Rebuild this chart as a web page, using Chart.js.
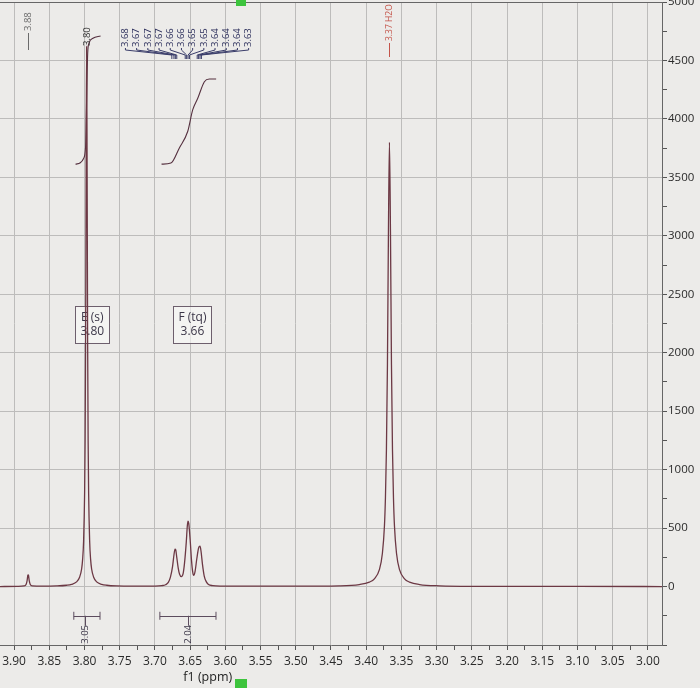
<!DOCTYPE html>
<html>
<head>
<meta charset="utf-8">
<script src="https://cdn.jsdelivr.net/npm/chart.js@4.4.1/dist/chart.umd.min.js"></script>
<style>
  html, body { margin: 0; padding: 0; background: #ecebe9; }
</style>
</head>
<body>
<canvas id="nmr" width="700" height="688"></canvas>
<script>
// 1H trace: shift (ppm) and intensity
const shiftPpm = [
  3.920, 3.895, 3.886, 3.883, 3.8815, 3.8805, 3.880, 3.8795, 3.8785, 3.877, 3.874, 3.860,
  3.8398, 3.8255, 3.8184, 3.8113, 3.8070, 3.8041, 3.8027, 3.8013, 3.79985, 3.79914, 3.79843, 3.7977,
  3.797,
  3.7963, 3.79557, 3.79486, 3.79415, 3.7927, 3.7913, 3.7899, 3.7870, 3.7827, 3.7756, 3.7685, 3.7542,
  3.730, 3.700, 3.690, 3.685, 3.681, 3.678, 3.675, 3.673, 3.6715, 3.6705, 3.669, 3.667, 3.665, 3.6625,
  3.660, 3.658, 3.6555, 3.654, 3.653, 3.652, 3.650, 3.648, 3.6465, 3.645,
  3.643, 3.6405, 3.638, 3.636, 3.6345, 3.6325, 3.630, 3.627, 3.624, 3.618, 3.605, 3.580, 3.500,
  3.4384, 3.4098, 3.3955, 3.3884, 3.3813, 3.3770, 3.3741, 3.3727, 3.3713, 3.36985, 3.36843,
  3.367,
  3.36557, 3.36415, 3.3627, 3.3613, 3.3599, 3.3570, 3.3527, 3.3456, 3.3385, 3.3242, 3.2956,
  3.250, 3.100, 2.980
];
const intensity = [
  0, 2, 6, 18, 50, 95, 100, 95, 50, 18, 6, 3,
  5, 11, 19, 40, 80, 150, 230, 390, 800, 1250, 2100, 3550,
  4620,
  3550, 2100, 1250, 800, 390, 230, 150, 80, 40, 19, 11, 5,
  3, 4, 8, 15, 35, 80, 170, 270, 320, 315, 250, 160, 105, 85,
  110, 200, 380, 520, 560, 540, 400, 220, 130, 95,
  130, 240, 330, 345, 300, 190, 90, 40, 18, 8, 4, 3, 3,
  6, 17, 38, 66, 145, 285, 520, 760, 1170, 1900, 3040,
  3800,
  3040, 1900, 1170, 760, 520, 285, 145, 66, 38, 17, 6,
  2, 1, 0
];

// integral curves
const integralEPpm = [3.8128, 3.806, 3.8015, 3.7985, 3.797, 3.7955, 3.7935, 3.788, 3.7772];
const integralEVal = [3613, 3625, 3660, 3760, 4160, 4560, 4650, 4690, 4710];
const integralFPpm = [3.6906, 3.6773, 3.6655, 3.6535, 3.6464, 3.6392, 3.6298, 3.6227, 3.6131];
const integralFVal = [3613, 3622, 3750, 3892, 4077, 4176, 4318, 4341, 4341];

// integral ranges under the trace
const integralFrom = [3.8152, 3.693];
const integralTo = [3.778, 3.6133];
const integralMid = [3.7986, 3.6527];
const integralText = ['3.05', '2.04'];

// peak picking labels
const peakLabelPpm = [3.880, 3.797, 3.367];
const peakLabelText = ['3.88', '3.80', '3.37 H2O'];
const multipletPpm = [3.676, 3.673, 3.671, 3.669, 3.657, 3.655, 3.653, 3.651, 3.640, 3.638, 3.636, 3.634];
const multipletText = ['3.68', '3.67', '3.67', '3.67', '3.66', '3.66', '3.65', '3.65', '3.64', '3.64', '3.64', '3.63'];

// multiplet assignment boxes
const assignTitle = ['E (s)', 'F (tq)'];
const assignShift = ['3.80', '3.66'];
const assignPpm = [3.789, 3.6467];
const assignLevel = [2240, 2240];

const FONT = '"Open Sans", "Liberation Sans", sans-serif';
const isMajor = v => Math.round(v * 1000) % 50 === 0;

function vText(ctx, txt, x, yBottom, color, size) {
  ctx.save();
  ctx.translate(x, yBottom);
  ctx.rotate(-Math.PI / 2);
  ctx.fillStyle = color;
  ctx.font = size + 'px ' + FONT;
  ctx.textAlign = 'left';
  ctx.textBaseline = 'middle';
  ctx.fillText(txt, 0, 0);
  ctx.restore();
}

const decor = {
  id: 'decor',
  beforeDraw(chart) {
    const ctx = chart.ctx;
    ctx.save();
    ctx.fillStyle = '#ecebe9';
    ctx.fillRect(0, 0, chart.width, chart.height);
    ctx.restore();
  },
  beforeDatasetsDraw(chart) {
    const ctx = chart.ctx, xs = chart.scales.x, ys = chart.scales.y;
    ctx.save();
    ctx.font = '12px ' + FONT;
    ctx.textAlign = 'center';
    ctx.textBaseline = 'middle';
    assignTitle.forEach((t, i) => {
      const cx = xs.getPixelForValue(assignPpm[i]);
      const cy = ys.getPixelForValue(assignLevel[i]);
      const w = Math.max(ctx.measureText(t).width, ctx.measureText(assignShift[i]).width) + 10;
      const h = 37;
      ctx.fillStyle = 'rgba(250,250,248,0.6)';
      ctx.fillRect(cx - w / 2, cy - h / 2, w, h);
      ctx.strokeStyle = '#6d5f6d';
      ctx.lineWidth = 1;
      ctx.strokeRect(Math.round(cx - w / 2) + 0.5, Math.round(cy - h / 2) + 0.5, Math.round(w), h);
      ctx.fillStyle = '#3b3648';
      ctx.fillText(t, cx, cy - 7);
      ctx.fillText(assignShift[i], cx, cy + 7);
    });
    ctx.restore();
  },
  afterDraw(chart) {
    const ctx = chart.ctx, xs = chart.scales.x, ys = chart.scales.y, a = chart.chartArea;
    const top = a.top;
    ctx.save();

    // frame along the top
    ctx.strokeStyle = '#666';
    ctx.lineWidth = 1;
    ctx.beginPath();
    ctx.moveTo(a.left, top + 0.5);
    ctx.lineTo(a.right, top + 0.5);
    ctx.stroke();

    // single peak labels
    const lab = [
      { color: '#6b6b6b', lead: [48, 31], size: 9.5 },
      { color: '#333333', lead: [46, 46], size: 9.5 },
      { color: '#c4544a', lead: [55, 41], size: 8.5 }
    ];
    peakLabelPpm.forEach((p, i) => {
      const x = Math.round(xs.getPixelForValue(p)) + 0.5;
      const s = lab[i];
      ctx.strokeStyle = s.color;
      ctx.beginPath();
      ctx.moveTo(x, top + s.lead[0]);
      ctx.lineTo(x, top + s.lead[1]);
      ctx.stroke();
      vText(ctx, peakLabelText[i], x, top + s.lead[1] - 2, s.color, s.size);
    });

    // multiplet labels with fanned connectors
    const peakX = multipletPpm.map(p => xs.getPixelForValue(p));
    const mid = peakX.reduce((s, v) => s + v, 0) / peakX.length;
    const gap = 11.2;
    ctx.strokeStyle = '#3a3d6a';
    ctx.lineWidth = 1;
    multipletText.forEach((t, i) => {
      const lx = mid + (i - (multipletText.length - 1) / 2) * gap;
      vText(ctx, t, lx, top + 45, '#2c2f5c', 9.5);
      ctx.beginPath();
      ctx.moveTo(lx, top + 46);
      ctx.lineTo(lx, top + 48);
      ctx.lineTo(peakX[i], top + 53);
      ctx.lineTo(peakX[i], top + 57);
      ctx.stroke();
    });

    // integral ranges
    const yb = ys.getPixelForValue(-250);
    ctx.strokeStyle = '#5c4c5e';
    integralText.forEach((t, i) => {
      const x1 = xs.getPixelForValue(integralFrom[i]);
      const x2 = xs.getPixelForValue(integralTo[i]);
      const xm = Math.round(xs.getPixelForValue(integralMid[i])) + 0.5;
      ctx.beginPath();
      ctx.moveTo(x1, Math.round(yb) + 0.5);
      ctx.lineTo(x2, Math.round(yb) + 0.5);
      ctx.moveTo(x1, yb - 4); ctx.lineTo(x1, yb + 4);
      ctx.moveTo(x2, yb - 4); ctx.lineTo(x2, yb + 4);
      ctx.moveTo(xm, yb); ctx.lineTo(xm, yb + 10);
      ctx.stroke();
      vText(ctx, t, xm, yb + 28, '#3b3648', 9.5);
    });

    // axis title sits under the left part of the scale
    ctx.fillStyle = '#222';
    ctx.font = '12.5px ' + FONT;
    ctx.textAlign = 'center';
    ctx.textBaseline = 'middle';
    ctx.fillText('f1 (ppm)', xs.getPixelForValue(3.625), 677);

    // green markers of the viewer
    ctx.fillStyle = '#3dc43d';
    ctx.fillRect(236, 0, 10, 6);
    ctx.fillRect(235, 679, 12, 9);
    ctx.restore();
  }
};

const lineColor = '#6c3844';
const integralColor = '#55303f';

new Chart(document.getElementById('nmr'), {
  type: 'line',
  data: {
    datasets: [
      {
        label: 'spectrum',
        data: shiftPpm.map((x, i) => ({ x: x, y: intensity[i] })),
        borderColor: lineColor,
        borderWidth: 1.3,
        pointRadius: 0,
        cubicInterpolationMode: 'monotone'
      },
      {
        label: 'integral E',
        data: integralEPpm.map((x, i) => ({ x: x, y: integralEVal[i] })),
        borderColor: integralColor,
        borderWidth: 1.1,
        pointRadius: 0,
        cubicInterpolationMode: 'monotone'
      },
      {
        label: 'integral F',
        data: integralFPpm.map((x, i) => ({ x: x, y: integralFVal[i] })),
        borderColor: integralColor,
        borderWidth: 1.1,
        pointRadius: 0,
        cubicInterpolationMode: 'monotone'
      }
    ]
  },
  options: {
    responsive: false,
    animation: false,
    layout: { padding: { top: 2, left: 0, right: 0, bottom: 0 } },
    plugins: { legend: { display: false }, tooltip: { enabled: false } },
    scales: {
      x: {
        type: 'linear',
        reverse: true,
        min: 2.98,
        max: 3.92,
        afterFit(s) { s.height = 43; s.paddingLeft = 0; s.paddingRight = 0; },
        ticks: {
          stepSize: 0.025,
          includeBounds: false,
          autoSkip: false,
          maxRotation: 0,
          padding: 4,
          color: '#2a2a2a',
          font: { family: FONT, size: 12 },
          callback: v => isMajor(v) ? v.toFixed(2) : ''
        },
        grid: {
          color: c => (c.tick && isMajor(c.tick.value)) ? '#bdbcbb' : 'rgba(0,0,0,0)',
          tickColor: '#555',
          tickLength: 5
        },
        border: { color: '#666' }
      },
      y: {
        position: 'right',
        min: -500,
        max: 5000,
        afterFit(s) { s.width = 38; s.paddingTop = 0; s.paddingBottom = 0; },
        ticks: {
          stepSize: 250,
          autoSkip: false,
          padding: 1,
          color: '#2a2a2a',
          font: { family: FONT, size: 11.5 },
          callback: v => (v >= 0 && v % 500 === 0) ? String(v) : ''
        },
        grid: {
          color: c => (c.tick && c.tick.value > -500 && c.tick.value % 500 === 0) ? '#bdbcbb' : 'rgba(0,0,0,0)',
          tickColor: '#555',
          tickLength: 5
        },
        border: { color: '#666' }
      }
    }
  },
  plugins: [decor]
});
</script>
</body>
</html>
